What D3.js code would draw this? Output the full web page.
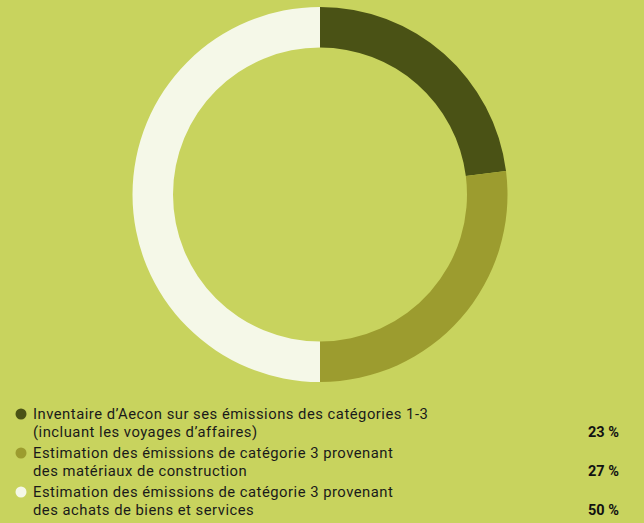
<!DOCTYPE html>
<html><head><meta charset="utf-8">
<script src="https://cdn.jsdelivr.net/npm/d3@7"></script>
<style>html,body{margin:0;padding:0;background:#c8d35e;}svg{display:block}</style>
</head><body>
<script>
const categories = [
  ["Inventaire d\u2019Aecon sur ses émissions des catégories 1-3", "(incluant les voyages d\u2019affaires)"],
  ["Estimation des émissions de catégorie 3 provenant", "des matériaux de construction"],
  ["Estimation des émissions de catégorie 3 provenant", "des achats de biens et services"]
];
const values = [23, 27, 50];
const valueLabels = ["23 %", "27 %", "50 %"];
const colors = ["#4a5215", "#9c9c2f", "#f5f8e8"];

const W = 644, H = 523;
const svg = d3.select("body").append("svg").attr("width", W).attr("height", H);
svg.append("rect").attr("width", W).attr("height", H).attr("fill", "#c8d35e");

const pie = d3.pie().sort(null).value(d => d);
const arc = d3.arc().innerRadius(147).outerRadius(187.5);
const g = svg.append("g").attr("transform", "translate(320,194.5)");
g.selectAll("path").data(pie(values)).join("path")
  .attr("d", arc).attr("fill", (d, i) => colors[i]);

const font = "Roboto, sans-serif";
const leg = svg.append("g");
const y0 = [414, 453, 492];
categories.forEach((lines, i) => {
  leg.append("circle").attr("cx", 21).attr("cy", y0[i]).attr("r", 5.5).attr("fill", colors[i]);
  lines.forEach((s, j) => {
    leg.append("text").attr("x", 33).attr("y", y0[i] + 5 + j * 17.5)
      .attr("font-family", font).attr("font-size", 14.8).attr("letter-spacing", 0.5)
      .attr("fill", "#1a1a1a").text(s);
  });
  leg.append("text").attr("x", 619).attr("y", y0[i] + 17.5 + 5).attr("text-anchor", "end")
    .attr("font-family", font).attr("font-size", 14.5).attr("font-weight", "bold").attr("fill", "#111")
    .text(valueLabels[i]);
});
</script>
</body></html>
